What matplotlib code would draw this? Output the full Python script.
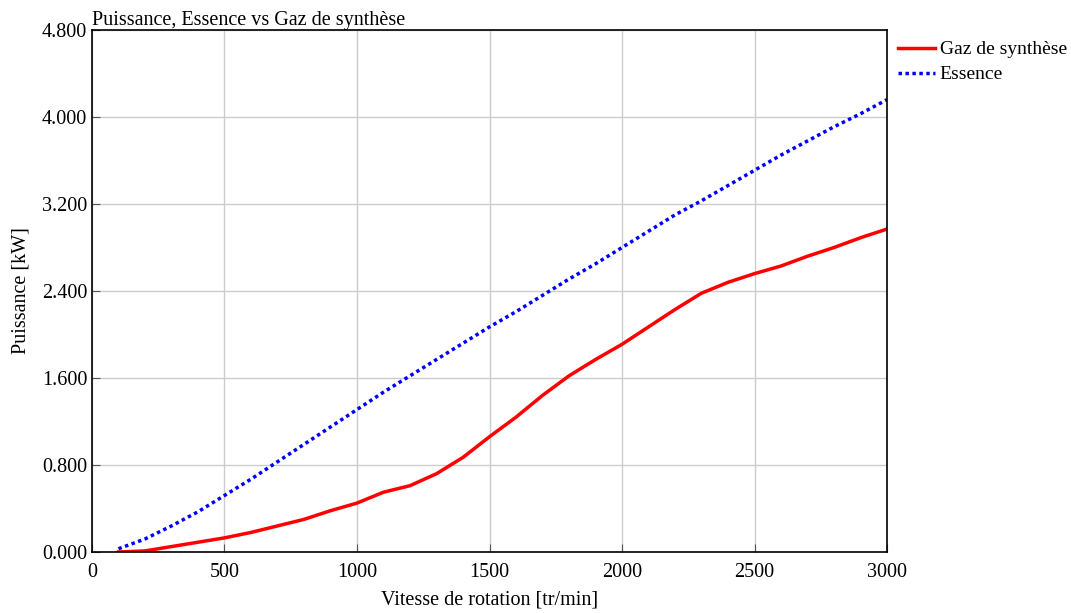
import numpy as np
import matplotlib.pyplot as plt

# Data
vitesse = [100, 200, 300, 400, 500, 600, 700, 800, 900, 1000,
           1100, 1200, 1300, 1400, 1500, 1600, 1700, 1800, 1900, 2000,
           2100, 2200, 2300, 2400, 2500, 2600, 2700, 2800, 2900, 3000]
gaz_synthese = [0.00, 0.01, 0.05, 0.09, 0.13, 0.18, 0.24, 0.30, 0.38, 0.45,
                0.55, 0.61, 0.72, 0.87, 1.06, 1.24, 1.44, 1.62, 1.77, 1.91,
                2.07, 2.23, 2.38, 2.48, 2.56, 2.63, 2.72, 2.80, 2.89, 2.97]
essence = [0.03, 0.12, 0.24, 0.37, 0.52, 0.67, 0.83, 0.99, 1.15, 1.31,
           1.47, 1.62, 1.77, 1.92, 2.07, 2.21, 2.36, 2.51, 2.65, 2.80,
           2.95, 3.10, 3.23, 3.37, 3.51, 3.65, 3.78, 3.91, 4.03, 4.16]

plt.rcParams['font.family'] = ['Liberation Serif', 'DejaVu Serif']
fs = 14.5

fig = plt.figure(figsize=(10.71, 6.13), dpi=100)
ax = fig.add_axes([0.0859, 0.0995, 0.7423, 0.8515])

ax.plot(vitesse, gaz_synthese, color='#ff0000', lw=2.5, label='Gaz de synthèse')
ax.plot(vitesse, essence, color='#0000ff', lw=2.5, ls=(0, (1, 1)), label='Essence')

ax.set_xlim(0, 3000)
ax.set_ylim(0, 4.8)
ax.set_xticks(np.arange(0, 3001, 500))
ax.set_yticks(np.arange(0, 4.81, 0.8))
ax.yaxis.set_major_formatter(plt.FuncFormatter(lambda v, p: f"{v:.3f}"))
ax.tick_params(direction='in', labelsize=fs, length=6, color='#555555')
ax.tick_params(axis='x', pad=8)
ax.grid(True, color='#cccccc', lw=1)
for s in ax.spines.values():
    s.set_linewidth(1.2)

ax.set_xlabel('Vitesse de rotation [tr/min]', fontsize=fs, labelpad=6)
ax.set_ylabel('Puissance [kW]', fontsize=fs, labelpad=8)
ax.set_title('Puissance, Essence vs Gaz de synthèse', loc='left', fontsize=fs, pad=1)

ax.legend(loc='upper left', bbox_to_anchor=(1.0, 1.0), frameon=False,
          fontsize=14, handlelength=1.9, handletextpad=0.25, borderaxespad=0.0,
          borderpad=0.55, labelspacing=0.38)

fig.savefig('out.png', dpi=100)
